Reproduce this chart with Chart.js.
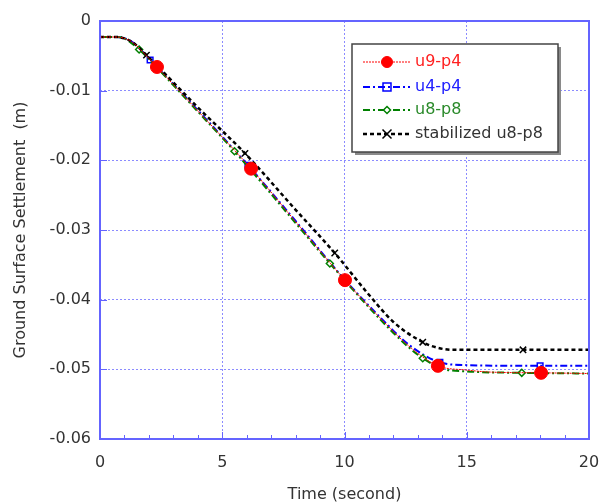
<!DOCTYPE html>
<html>
<head>
<meta charset="utf-8">
<script src="https://cdn.jsdelivr.net/npm/chart.js@4.4.0/dist/chart.umd.min.js"></script>
<style>
  html, body { margin: 0; padding: 0; background: #fff; }
  canvas { display: block; }
</style>
</head>
<body>
<canvas id="chart" width="600" height="504"></canvas>
<script>
// axis ticks
const xTickValues = [0, 5, 10, 15, 20];
const xTickLabels = ['0', '5', '10', '15', '20'];
const xMinorTicks = [1, 2, 3, 4, 6, 7, 8, 9, 11, 12, 13, 14, 16, 17, 18, 19];
const yTickValues = [0, -0.01, -0.02, -0.03, -0.04, -0.05, -0.06];
const yTickLabels = ['0', '-0.01', '-0.02', '-0.03', '-0.04', '-0.05', '-0.06'];

// u9-p4
const redT = [0, 0.7, 1.0, 1.35, 1.9, 2.33, 4, 6.18, 8, 10.02, 11.45, 12.68, 13.82, 15, 16, 18.04, 20];
const redY = [-0.0023, -0.0023, -0.0025, -0.0031, -0.0050, -0.0066, -0.0129, -0.0212, -0.0288, -0.0372, -0.0426, -0.0468, -0.0495, -0.0501, -0.0504, -0.0505, -0.0506];
const redMarks = [2.33, 6.18, 10.02, 13.82, 18.04];

// u4-p4
const blueT = [0, 0.7, 1.0, 1.35, 2.05, 4, 6.05, 8, 9.98, 11.45, 12.68, 13.9, 15, 18.0, 20];
const blueY = [-0.0023, -0.0023, -0.0025, -0.0031, -0.0056, -0.0128, -0.0207, -0.0287, -0.0370, -0.0425, -0.0466, -0.0490, -0.0494, -0.0495, -0.0495];
const blueMarks = [2.05, 6.05, 9.98, 13.9, 18.0];

// u8-p8
const greenT = [0, 0.7, 1.0, 1.6, 2.33, 4, 5.5, 8, 9.4, 11.45, 12.68, 13.2, 14, 15, 17.25, 20];
const greenY = [-0.0023, -0.0023, -0.0025, -0.0041, -0.0067, -0.0130, -0.0187, -0.0290, -0.0348, -0.0428, -0.0470, -0.0484, -0.0499, -0.0503, -0.0505, -0.0506];
const greenMarks = [1.6, 5.5, 9.4, 13.2, 17.25];

// stabilized u8-p8
const stabT = [0, 0.7, 1.0, 1.35, 1.9, 2.33, 4, 5.93, 8, 9.6, 11, 12, 13.2, 13.8, 14.4, 17.3, 20];
const stabY = [-0.0023, -0.0023, -0.0025, -0.0031, -0.0049, -0.0064, -0.0124, -0.0190, -0.0271, -0.0333, -0.0393, -0.0432, -0.0461, -0.0469, -0.0472, -0.0472, -0.0472];
const stabMarks = [1.9, 5.93, 9.6, 13.2, 17.3];

const FONT = "'DejaVu Sans', 'Liberation Sans', sans-serif";
const AXIS_BLUE = '#6464ff';
const GRID_BLUE = 'rgba(110,110,255,0.8)';

function toPoints(ts, ys) {
  return ts.map((t, i) => ({ x: t, y: ys[i] }));
}

function markRadius(marks, r) {
  return ctx => (ctx.raw && marks.includes(ctx.raw.x) ? r : 0);
}

function series(label, ts, ys, marks, style) {
  return {
    label,
    data: toPoints(ts, ys),
    borderColor: style.color,
    borderWidth: style.width,
    borderDash: style.dash,
    pointStyle: style.point,
    pointRadius: markRadius(marks, style.radius),
    pointHoverRadius: 0,
    pointBorderColor: style.color,
    pointBackgroundColor: style.fill,
    pointBorderWidth: style.pointWidth,
    cubicInterpolationMode: 'monotone',
    order: style.order,
    legendRadius: style.legendRadius
  };
}

function drawMarker(ctx, ds, x, y) {
  const r = ds.legendRadius;
  ctx.save();
  ctx.strokeStyle = ds.pointBorderColor;
  ctx.fillStyle = ds.pointBackgroundColor;
  ctx.lineWidth = ds.pointBorderWidth;
  ctx.setLineDash([]);
  ctx.beginPath();
  if (ds.pointStyle === 'circle') {
    ctx.arc(x, y, r, 0, Math.PI * 2);
    ctx.fill();
    ctx.stroke();
  } else if (ds.pointStyle === 'rect') {
    ctx.rect(x - r, y - r, r * 2, r * 2);
    ctx.fill();
    ctx.stroke();
  } else if (ds.pointStyle === 'rectRot') {
    ctx.moveTo(x, y - r); ctx.lineTo(x + r, y); ctx.lineTo(x, y + r); ctx.lineTo(x - r, y); ctx.closePath();
    ctx.fill();
    ctx.stroke();
  } else {
    ctx.moveTo(x - r, y - r); ctx.lineTo(x + r, y + r);
    ctx.moveTo(x + r, y - r); ctx.lineTo(x - r, y + r);
    ctx.stroke();
  }
  ctx.restore();
}

const frame = {
  id: 'frame',
  afterDatasetsDraw(chart) {
    const { ctx, chartArea: a, scales: { x, y } } = chart;
    ctx.save();
    ctx.strokeStyle = AXIS_BLUE;
    ctx.lineWidth = 1;
    ctx.beginPath();
    xMinorTicks.forEach(t => {
      const px = Math.round(x.getPixelForValue(t)) + 0.5;
      ctx.moveTo(px, a.bottom); ctx.lineTo(px, a.bottom - 4);
    });
    xTickValues.forEach(t => {
      const px = Math.round(x.getPixelForValue(t)) + 0.5;
      ctx.moveTo(px, a.bottom); ctx.lineTo(px, a.bottom - 7);
    });
    yTickValues.forEach(v => {
      const py = Math.round(y.getPixelForValue(v)) + 0.5;
      ctx.moveTo(a.left, py); ctx.lineTo(a.left + 7, py);
    });
    ctx.stroke();
    ctx.lineWidth = 2;
    ctx.strokeRect(a.left, a.top, a.right - a.left, a.bottom - a.top);
    ctx.restore();
  }
};

const legendBox = {
  id: 'legendBox',
  afterDraw(chart) {
    const ctx = chart.ctx;
    const L = 352, T = 44, R = 558, B = 152;
    const rows = [62, 87, 110, 134];
    const textColors = ['#ff2020', '#2020ff', '#2a8a2a', '#333333'];
    ctx.save();
    ctx.fillStyle = '#8a8a8a';
    ctx.fillRect(L + 3, T + 3, R - L, B - T);
    ctx.fillStyle = '#fff';
    ctx.fillRect(L, T, R - L, B - T);
    ctx.strokeStyle = '#444';
    ctx.lineWidth = 1.5;
    ctx.strokeRect(L, T, R - L, B - T);
    chart.data.datasets.forEach((ds, i) => {
      const yy = rows[i];
      ctx.save();
      ctx.strokeStyle = ds.borderColor;
      ctx.lineWidth = ds.borderWidth;
      ctx.setLineDash(ds.borderDash || []);
      ctx.beginPath();
      ctx.moveTo(363, yy);
      ctx.lineTo(410, yy);
      ctx.stroke();
      ctx.restore();
      drawMarker(ctx, ds, 387, yy);
      ctx.fillStyle = textColors[i];
      ctx.font = '16px ' + FONT;
      ctx.textAlign = 'left';
      ctx.textBaseline = 'middle';
      ctx.fillText(ds.label, 415, yy);
    });
    ctx.restore();
  }
};

new Chart(document.getElementById('chart'), {
  type: 'line',
  data: {
    datasets: [
      series('u9-p4', redT, redY, redMarks, { color: '#ff0000', width: 1, dash: [2, 1], point: 'circle', radius: 6.5, fill: '#ff0000', pointWidth: 1, order: 0, legendRadius: 5.5 }),
      series('u4-p4', blueT, blueY, blueMarks, { color: '#0000ff', width: 2, dash: [7, 3, 2, 3], point: 'rect', radius: 4, fill: 'rgba(255,255,255,0)', pointWidth: 1.5, order: 3, legendRadius: 4 }),
      series('u8-p8', greenT, greenY, greenMarks, { color: '#008000', width: 2, dash: [7, 3, 2, 3], point: 'rectRot', radius: 3.5, fill: '#ffffff', pointWidth: 1.5, order: 2, legendRadius: 3.5 }),
      series('stabilized u8-p8', stabT, stabY, stabMarks, { color: '#000000', width: 2.5, dash: [4, 3], point: 'crossRot', radius: 4.5, fill: '#000000', pointWidth: 1.5, order: 1, legendRadius: 4.5 })
    ]
  },
  options: {
    responsive: false,
    animation: false,
    events: [],
    layout: { padding: { top: 21, right: 11, left: 0, bottom: 0 } },
    plugins: {
      legend: { display: false },
      tooltip: { enabled: false }
    },
    scales: {
      x: {
        type: 'linear',
        min: 0,
        max: 20,
        afterFit: s => { s.height = 65; s.paddingLeft = 0; s.paddingRight = 0; },
        afterBuildTicks: s => { s.ticks = xTickValues.map(v => ({ value: v })); },
        ticks: {
          padding: 14,
          color: '#333',
          font: { family: FONT, size: 16 },
          maxRotation: 0,
          callback: v => xTickLabels[xTickValues.indexOf(v)]
        },
        grid: { color: GRID_BLUE, lineWidth: 1, drawTicks: false },
        border: { display: false, dash: [2, 2] },
        title: {
          display: true,
          text: 'Time (second)',
          color: '#333',
          font: { family: FONT, size: 16 },
          padding: { top: 6, bottom: 0 }
        }
      },
      y: {
        type: 'linear',
        min: -0.06,
        max: 0,
        afterFit: s => { s.width = 100; s.paddingTop = 0; s.paddingBottom = 0; },
        afterBuildTicks: s => { s.ticks = yTickValues.map(v => ({ value: v })); },
        ticks: {
          padding: 9,
          color: '#333',
          font: { family: FONT, size: 16 },
          callback: v => yTickLabels[yTickValues.indexOf(v)]
        },
        grid: { color: GRID_BLUE, lineWidth: 1, drawTicks: false },
        border: { display: false, dash: [2, 2] },
        title: {
          display: true,
          text: 'Ground Surface Settlement  (m)',
          color: '#333',
          font: { family: FONT, size: 16 },
          padding: { top: 11, bottom: 0 }
        }
      }
    }
  },
  plugins: [frame, legendBox]
});
</script>
</body>
</html>
